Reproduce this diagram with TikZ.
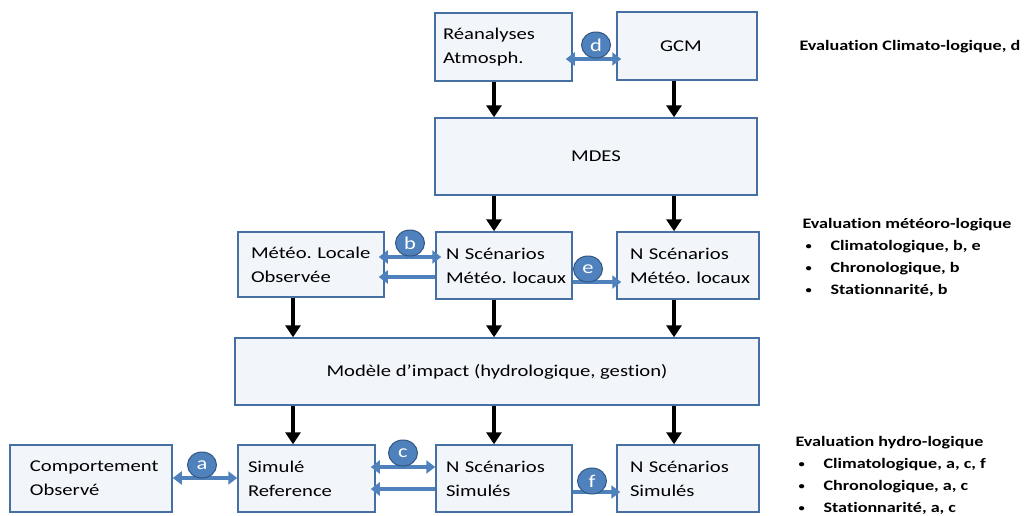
\documentclass[tikz,border=0pt]{standalone}
\usepackage{fontspec}
\setmainfont{Carlito}[FakeStretch=1.25, Ligatures=NoCommon]
\usetikzlibrary{arrows.meta, shapes.geometric}

\definecolor{boxline}{RGB}{70,112,163}
\definecolor{boxfill}{RGB}{242,246,251}
\definecolor{tagblue}{RGB}{79,129,189}
\definecolor{tagline}{RGB}{50,86,130}

\hyphenpenalty=10000
\exhyphenpenalty=10000
\frenchspacing

\tikzset{
  box/.style={draw=boxline, fill=boxfill, line width=1.5pt, inner sep=0pt,
    minimum height=67pt, align=left, font=\fontsize{16.5}{24}\selectfont},
  down/.style={line width=3.2pt, -{Triangle[width=15pt,length=12pt]}},
  link/.style={draw=tagblue, line width=3.5pt, -{Triangle[width=13pt,length=9pt]}},
  both/.style={link, {Triangle[width=13pt,length=9pt]}-{Triangle[width=13pt,length=9pt]}},
  tag/.style={ellipse, fill=tagblue, draw=tagline, line width=1pt, text=white,
    minimum width=29pt, minimum height=26pt, inner sep=0pt, font=\fontsize{18}{18}\selectfont},
  side/.style={anchor=west, align=left, font=\bfseries\fontsize{14.5}{22}\selectfont}
}

\newcommand{\bul}[1]{\makebox[28pt][l]{\hspace{3pt}\raisebox{1pt}{\fontsize{10}{10}\selectfont\textbullet}}#1}

\begin{document}
\begin{tikzpicture}[x=1pt, y=-1pt]
    \useasboundingbox (0,0) rectangle (1026,515);

    % columns of the black arrows
    \coordinate (cola) at (293,0);
    \coordinate (colb) at (494,0);
    \coordinate (colc) at (674,0);

    % draw top row
    \node[box, minimum width=137pt, minimum height=68pt, text width=121pt] (rea) at (503.5,47) {Réanalyses\\Atmosph.};
    \node[box, minimum width=140pt, minimum height=68pt, text width=54pt] (gcm) at (687,46) {GCM};
    \node[box, minimum width=322pt, minimum height=77pt, align=center] (mdes) at (596,156.5) {MDES};

    % draw meteo row
    \node[box, minimum width=146pt, minimum height=65pt, text width=120pt] (metobs) at (311,264.5) {\mbox{Météo. Locale}\\Observée};
    \node[box, minimum width=136pt, text width=116pt] (metscen) at (504,265.5) {\mbox{N Scénarios}\\\mbox{Météo. locaux}};
    \node[box, minimum width=142pt, text width=116pt] (metscenb) at (688,265.5) {\mbox{N Scénarios}\\\mbox{Météo. locaux}};

    % draw impact model
    \node[box, minimum width=524pt, align=center] (impact) at (497,371.5) {Modèle d’impact (hydrologique, gestion)};

    % draw hydro row
    \node[box, minimum width=162pt, text width=122pt] (hydobs) at (91,478.5) {Comportement\\Observé};
    \node[box, minimum width=137pt, text width=117pt] (simref) at (306.5,478.5) {Simulé\\Reference};
    \node[box, minimum width=136pt, text width=116pt] (simscen) at (504,478.5) {\mbox{N Scénarios}\\Simulés};
    \node[box, minimum width=142pt, text width=116pt] (simscenb) at (688,478.5) {\mbox{N Scénarios}\\Simulés};

    % draw black arrows
    \draw[down] (rea.south -| colb) -- (mdes.north -| colb);
    \draw[down] (gcm.south -| colc) -- (mdes.north -| colc);
    \draw[down] (mdes.south -| colb) -- (metscen.north -| colb);
    \draw[down] (mdes.south -| colc) -- (metscenb.north -| colc);
    \draw[down] (metobs.south -| cola) -- (impact.north -| cola);
    \draw[down] (metscen.south -| colb) -- (impact.north -| colb);
    \draw[down] (metscenb.south -| colc) -- (impact.north -| colc);
    \draw[down] (impact.south -| cola) -- (simref.north -| cola);
    \draw[down] (impact.south -| colb) -- (simscen.north -| colb);
    \draw[down] (impact.south -| colc) -- (simscenb.north -| colc);

    % draw blue links
    \draw[both, shorten <=-7pt, shorten >=-5pt] (rea.east |- 0,59) -- (gcm.west |- 0,59);
    \draw[both, shorten <=-6pt, shorten >=-6pt] (metobs.east |- 0,257) -- (metscen.west |- 0,257);
    \draw[link, shorten >=-6pt] (metscen.west |- 0,277) -- (metobs.east |- 0,277);
    \draw[link, shorten >=-5pt] (metscen.east |- 0,282) -- (metscenb.west |- 0,282);
    \draw[both] (hydobs.east |- 0,478) -- (simref.west |- 0,478);
    \draw[both, shorten <=-5pt] (simref.east |- 0,467) -- (simscen.west |- 0,467);
    \draw[link, shorten >=-5pt] (simscen.west |- 0,489) -- (simref.east |- 0,489);
    \draw[link, shorten >=-4pt] (simscen.east |- 0,492) -- (simscenb.west |- 0,492);

    % draw tags
    \node[tag] (tagd) at (596,45) {d};
    \node[tag] (tagb) at (410,243) {b};
    \node[tag] (tage) at (588,269) {e};
    \node[tag] (taga) at (202,465) {a};
    \node[tag] (tagc) at (403,453) {c};
    \node[tag] (tagf) at (592,481) {f};

    % draw evaluation texts
    \node[side] (evclim) at (796,47) {Evaluation Climato-logique, d};
    \node[side] (evmet) at (799,257.5) {Evaluation météoro-logique\\\bul{Climatologique, b, e}\\\bul{Chronologique, b}\\\bul{Stationnarité, b}};
    \node[side] (evhyd) at (792,475) {Evaluation hydro-logique\\\bul{Climatologique, a, c, f}\\\bul{Chronologique, a, c}\\\bul{Stationnarité, a, c}};
\end{tikzpicture}
\end{document}
